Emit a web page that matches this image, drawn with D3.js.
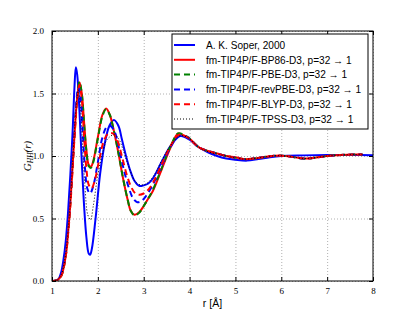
<!DOCTYPE html>
<html>
<head>
<meta charset="utf-8">
<script src="https://cdn.jsdelivr.net/npm/d3@7"></script>
<style>
  body { margin: 0; background: #fff; }
  .grid line { stroke: #b0b0b0; stroke-dasharray: 1,2; }
  .tick text { font-family: "Liberation Serif", serif; font-size: 9px; }
</style>
</head>
<body>
<div id="GraphHolder"></div>
<script>
// data: [r, G_HH(r)]
var soper = [[1.0,0],[1.1,0.005],[1.15,0.02],[1.2,0.07],[1.25,0.17],[1.3,0.32],[1.35,0.55],[1.4,0.85],
  [1.45,1.2],[1.49,1.55],[1.52,1.71],[1.55,1.65],[1.6,1.35],[1.65,0.95],[1.7,0.6],[1.75,0.35],[1.8,0.22],
  [1.83,0.21],[1.87,0.26],[1.95,0.5],[2.05,0.86],[2.15,1.1],[2.25,1.24],[2.35,1.288],[2.45,1.24],
  [2.52,1.14],[2.6,1.02],[2.7,0.89],[2.8,0.8],[2.91,0.76],[3.0,0.765],[3.1,0.78],[3.2,0.82],[3.4,0.96],
  [3.6,1.09],[3.8,1.16],[4.0,1.13],[4.2,1.07],[4.4,1.03],[4.6,1.0],[4.8,0.98],[5.0,0.97],[5.25,0.963],
  [5.5,0.975],[5.75,0.99],[6.0,1.0],[6.5,1.005],[7.0,1.008],[7.5,1.008],[8.0,1.005]];
var bp86 = [[1.0,0],[1.1,0.004],[1.2,0.04],[1.3,0.2],[1.35,0.38],[1.4,0.62],[1.45,0.92],[1.5,1.22],
  [1.55,1.47],[1.6,1.59],[1.65,1.5],[1.7,1.27],[1.75,1.05],[1.8,0.93],[1.85,0.915],[1.9,0.96],[2.0,1.15],
  [2.1,1.33],[2.18,1.38],[2.26,1.33],[2.35,1.2],[2.45,1.02],[2.55,0.82],[2.65,0.65],[2.72,0.56],[2.8,0.53],
  [2.9,0.55],[3.0,0.6],[3.1,0.66],[3.2,0.72],[3.4,0.9],[3.6,1.08],[3.75,1.18],[3.9,1.16],[4.0,1.14],
  [4.2,1.07],[4.4,1.04],[4.6,1.02],[4.8,1.0],[5.0,0.99],[5.2,0.975],[5.4,0.98],[5.6,0.99],[5.8,1.0],
  [6.0,1.003],[6.2,0.995],[6.5,0.98],[6.8,0.99],[7.0,1.0],[7.3,1.008],[7.6,1.012],[7.77,1.012]];
var pbe = [[1.0,0],[1.1,0.004],[1.2,0.04],[1.3,0.21],[1.35,0.39],[1.4,0.63],[1.45,0.93],[1.5,1.23],
  [1.55,1.48],[1.6,1.595],[1.65,1.5],[1.7,1.26],[1.75,1.04],[1.8,0.92],[1.85,0.905],[1.9,0.95],[2.0,1.14],
  [2.1,1.32],[2.18,1.375],[2.26,1.33],[2.35,1.2],[2.45,1.02],[2.55,0.82],[2.65,0.65],[2.72,0.56],[2.8,0.525],
  [2.9,0.545],[3.0,0.6],[3.1,0.66],[3.2,0.73],[3.4,0.91],[3.6,1.09],[3.75,1.18],[3.9,1.165],[4.0,1.14],
  [4.2,1.07],[4.4,1.04],[4.6,1.02],[4.8,1.0],[5.0,0.985],[5.2,0.975],[5.4,0.98],[5.6,0.99],[5.8,1.0],
  [6.0,1.003],[6.2,0.995],[6.5,0.978],[6.8,0.99],[7.0,1.0],[7.3,1.008],[7.6,1.012],[7.77,1.012]];
var revpbe = [[1.0,0],[1.1,0.005],[1.2,0.05],[1.3,0.23],[1.35,0.41],[1.4,0.65],[1.45,0.95],[1.5,1.25],
  [1.55,1.5],[1.58,1.55],[1.62,1.48],[1.67,1.2],[1.72,0.9],[1.77,0.74],[1.83,0.7],[1.9,0.76],[2.0,0.95],
  [2.1,1.15],[2.2,1.235],[2.28,1.24],[2.38,1.18],[2.48,1.03],[2.58,0.87],[2.68,0.74],[2.77,0.66],[2.86,0.63],
  [2.95,0.64],[3.05,0.68],[3.2,0.77],[3.4,0.93],[3.6,1.08],[3.78,1.165],[3.95,1.15],[4.2,1.07],[4.4,1.04],
  [4.6,1.02],[4.8,1.0],[5.0,0.985],[5.2,0.975],[5.4,0.98],[5.6,0.99],[5.8,1.0],[6.0,1.002],[6.2,0.995],
  [6.5,0.98],[6.8,0.99],[7.0,1.0],[7.3,1.008],[7.6,1.012],[7.77,1.012]];
var blyp = [[1.0,0],[1.1,0.004],[1.2,0.04],[1.3,0.2],[1.35,0.37],[1.4,0.6],[1.45,0.9],[1.5,1.2],
  [1.55,1.45],[1.6,1.57],[1.65,1.45],[1.7,1.15],[1.75,0.9],[1.8,0.77],[1.86,0.74],[1.93,0.8],[2.03,0.97],
  [2.13,1.12],[2.23,1.18],[2.33,1.18],[2.43,1.12],[2.53,0.99],[2.63,0.85],[2.73,0.75],[2.82,0.7],[2.91,0.69],
  [3.0,0.7],[3.1,0.73],[3.25,0.82],[3.4,0.94],[3.6,1.09],[3.77,1.17],[3.95,1.15],[4.2,1.07],[4.4,1.04],
  [4.6,1.02],[4.8,1.0],[5.0,0.985],[5.2,0.975],[5.4,0.98],[5.6,0.99],[5.8,1.0],[6.0,1.002],[6.2,0.995],
  [6.5,0.98],[6.8,0.99],[7.0,1.0],[7.3,1.008],[7.6,1.012],[7.77,1.012]];
var tpss = [[1.0,0],[1.1,0.005],[1.2,0.05],[1.3,0.22],[1.35,0.4],[1.4,0.63],[1.45,0.95],[1.5,1.27],
  [1.55,1.48],[1.57,1.53],[1.62,1.4],[1.67,1.05],[1.72,0.75],[1.78,0.53],[1.84,0.49],[1.9,0.6],[2.0,0.85],
  [2.1,1.02],[2.2,1.13],[2.35,1.17],[2.45,1.14],[2.55,1.05],[2.65,0.94],[2.75,0.84],[2.83,0.79],[2.92,0.77],
  [3.0,0.77],[3.1,0.79],[3.25,0.86],[3.4,0.97],[3.6,1.09],[3.78,1.16],[3.95,1.15],[4.2,1.07],[4.4,1.035],
  [4.6,1.015],[4.8,1.0],[5.0,0.985],[5.2,0.975],[5.4,0.98],[5.6,0.99],[5.8,1.0],[6.0,1.002],[6.2,0.995],
  [6.5,0.98],[6.8,0.99],[7.0,1.0],[7.3,1.008],[7.6,1.012],[7.77,1.012]];

var seriesNames = ["A. K. Soper, 2000",
  "fm-TIP4P/F-BP86-D3, p=32 \u2192 1",
  "fm-TIP4P/F-PBE-D3, p=32 \u2192 1",
  "fm-TIP4P/F-revPBE-D3, p=32 \u2192 1",
  "fm-TIP4P/F-BLYP-D3, p=32 \u2192 1",
  "fm-TIP4P/F-TPSS-D3, p=32 \u2192 1"];
var seriesData = [soper, bp86, pbe, revpbe, blyp, tpss];
var xTicks = [1, 2, 3, 4, 5, 6, 7, 8];
var yTicks = [0.0, 0.5, 1.0, 1.5, 2.0];

// line styles per series
var styles = [
  {color: "#0000ff", width: 2, dash: null},
  {color: "#ff0000", width: 2, dash: null},
  {color: "#008000", width: 2, dash: "6,4"},
  {color: "#0000ff", width: 2, dash: "6,4"},
  {color: "#ff0000", width: 2, dash: "6,4"},
  {color: "#000000", width: 1, dash: "1,2"}
];

var margin = {top: 31, right: 42, bottom: 31, left: 52},
    width = 415 - margin.left - margin.right,
    height = 312 - margin.top - margin.bottom;

var svg = d3.select("#GraphHolder").append("svg")
    .attr("width", 415)
    .attr("height", 312)
    .append("g")
    .attr("transform", "translate(" + margin.left + "," + margin.top + ")");

var x = d3.scaleLinear().domain([1, 8]).range([0, width]);
var y = d3.scaleLinear().domain([0, 2]).range([height, 0]);

// grid
svg.append("g")
    .attr("class", "grid")
    .attr("transform", "translate(0," + height + ")")
    .call(d3.axisBottom(x).tickValues(xTicks).tickSize(-height).tickFormat(""))
    .call(function(g) { g.select(".domain").remove(); });
svg.append("g")
    .attr("class", "grid")
    .call(d3.axisLeft(y).tickValues(yTicks).tickSize(-width).tickFormat(""))
    .call(function(g) { g.select(".domain").remove(); });

// curves
svg.append("clipPath").attr("id", "clip")
    .append("rect").attr("width", width).attr("height", height);

var line = d3.line()
    .x(function(d) { return x(d[0]); })
    .y(function(d) { return y(d[1]); })
    .curve(d3.curveCatmullRom.alpha(0.5));

seriesData.forEach(function(data, i) {
    svg.append("path")
        .datum(data)
        .attr("clip-path", "url(#clip)")
        .attr("fill", "none")
        .attr("stroke", styles[i].color)
        .attr("stroke-width", styles[i].width)
        .attr("stroke-dasharray", styles[i].dash)
        .attr("d", line);
});

// axes: ticks inside, on all four sides
var xAxis = d3.axisBottom(x).tickValues(xTicks).tickSizeInner(-4).tickSizeOuter(0).tickPadding(7).tickFormat(d3.format("d"));
var yAxis = d3.axisLeft(y).tickValues(yTicks).tickSizeInner(-4).tickSizeOuter(0).tickPadding(8).tickFormat(d3.format(".1f"));

svg.append("g")
    .attr("class", "xaxis")
    .attr("transform", "translate(0," + height + ")")
    .call(xAxis);
svg.append("g")
    .attr("class", "yaxis")
    .call(yAxis);
svg.append("g")
    .call(d3.axisTop(x).tickValues(xTicks).tickSizeInner(-4).tickSizeOuter(0).tickFormat(""));
svg.append("g")
    .attr("transform", "translate(" + width + ",0)")
    .call(d3.axisRight(y).tickValues(yTicks).tickSizeInner(-4).tickSizeOuter(0).tickFormat(""));

svg.selectAll(".domain").remove();
svg.append("rect")
    .attr("width", width)
    .attr("height", height)
    .attr("fill", "none")
    .attr("stroke", "black")
    .attr("stroke-width", 1);

// axis labels
svg.append("text")
    .attr("x", width / 2)
    .attr("y", height + 26)
    .style("text-anchor", "middle")
    .style("font-family", "Liberation Sans, Arial, sans-serif")
    .style("font-size", "10.5px")
    .text("r [\u00c5]");

var ylab = svg.append("text")
    .attr("transform", "translate(" + (-21) + "," + (height / 2) + ") rotate(-90)")
    .style("text-anchor", "middle")
    .style("font-family", "Liberation Serif, serif")
    .style("font-style", "italic")
    .style("font-size", "11px");
ylab.append("tspan").text("G");
ylab.append("tspan").attr("dy", 2).style("font-size", "7.5px").text("HH");
ylab.append("tspan").attr("dy", -2).text("(r)");

// legend
var lg = svg.append("g")
    .attr("transform", "translate(" + (172 - margin.left) + "," + (34 - margin.top) + ")");
lg.append("rect")
    .attr("width", 196)
    .attr("height", 95)
    .attr("fill", "white")
    .attr("stroke", "black")
    .attr("stroke-width", 1);

seriesNames.forEach(function(name, i) {
    var yy = 11 + i * 14.8;
    lg.append("line")
        .attr("x1", 2).attr("x2", 23)
        .attr("y1", yy).attr("y2", yy)
        .attr("stroke", styles[i].color)
        .attr("stroke-width", styles[i].width)
        .attr("stroke-dasharray", styles[i].dash);
    lg.append("text")
        .attr("x", 34)
        .attr("y", yy + 3.7)
        .style("font-family", "Liberation Sans, Arial, sans-serif")
        .style("font-size", "10.1px")
        .text(name);
});
</script>
</body>
</html>
